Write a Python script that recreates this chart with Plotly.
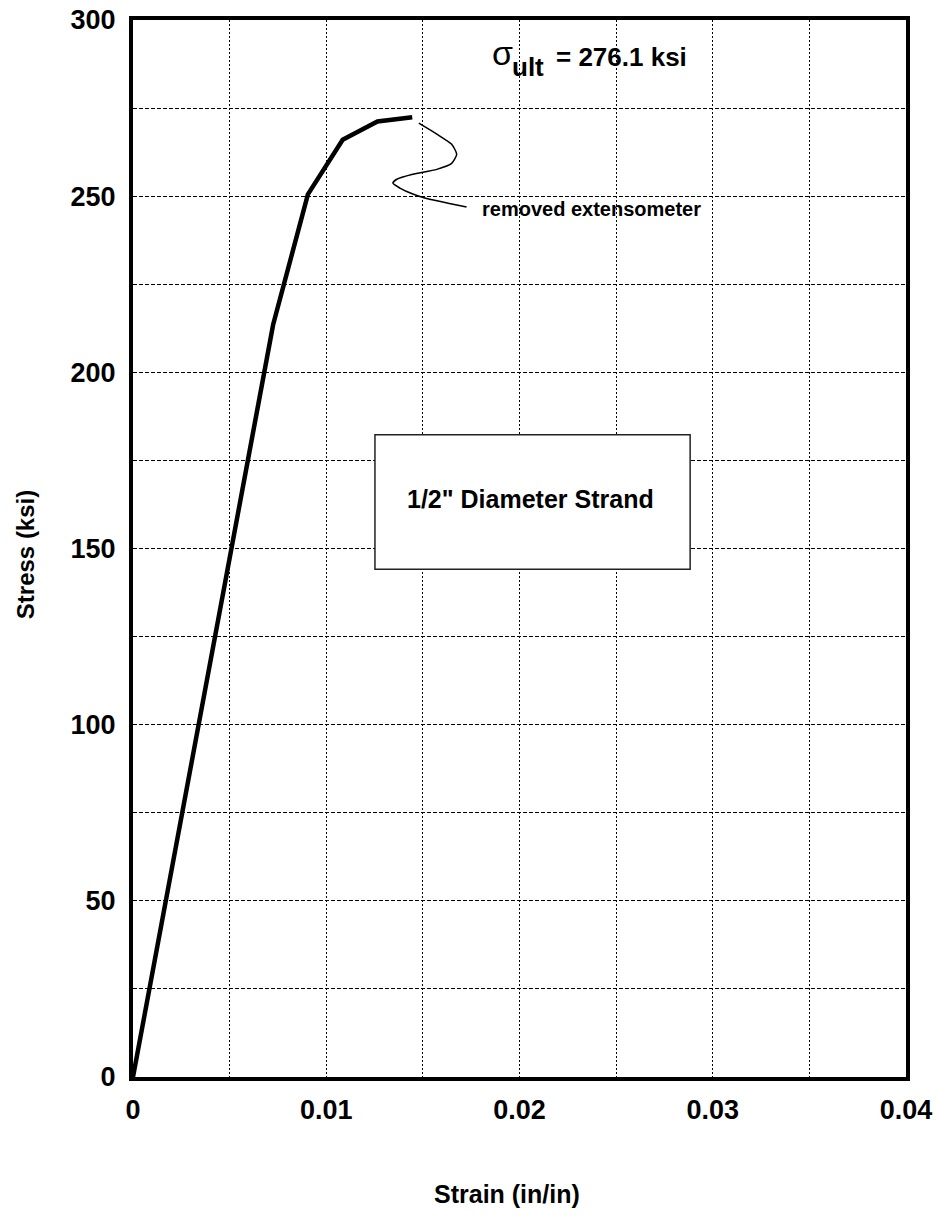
import plotly.graph_objects as go

# Stress-strain data
strain = [0.0, 0.00725, 0.00905, 0.01085, 0.01265, 0.01445]
stress = [0.0, 213.5, 250.5, 266.0, 271.2, 272.4]

# Leader squiggle for the "removed extensometer" note (data units)
leader_x = [0.01479, 0.01572, 0.01649, 0.01675, 0.01649, 0.01572, 0.01448, 0.01365,
            0.01345, 0.01381, 0.01448, 0.01510, 0.01726]
leader_y = [270.7, 267.6, 264.7, 261.9, 259.3, 257.6, 256.2, 254.8,
            253.7, 252.3, 250.6, 249.5, 246.9]

x_ticks = [0, 0.01, 0.02, 0.03, 0.04]
x_tick_labels = ["0", "0.01", "0.02", "0.03", "0.04"]
y_ticks = [0, 50, 100, 150, 200, 250, 300]
y_tick_labels = ["0", "50", "100", "150", "200", "250", "300"]

ult_label = "= 276.1 ksi"
box_label = "1/2\" Diameter Strand"
note_label = "removed extensometer"

FONT = "Liberation Sans"

fig = go.Figure()
fig.add_trace(go.Scatter(x=strain, y=stress, mode="lines",
                         line=dict(color="black", width=4.5),
                         showlegend=False, hoverinfo="skip"))
fig.add_trace(go.Scatter(x=leader_x, y=leader_y, mode="lines",
                         line=dict(color="black", width=1.5, shape="spline", smoothing=0.6),
                         showlegend=False, hoverinfo="skip"))

grid_common = dict(showgrid=True, gridcolor="black", gridwidth=1.3, automargin=False)
fig.update_xaxes(range=[0, 0.04], tickvals=x_ticks, ticktext=x_tick_labels,
                 showline=True, linecolor="black", linewidth=4, mirror=True,
                 zeroline=False, ticks="", ticklabelstandoff=6,
                 tickfont=dict(family=FONT, size=27, color="black", weight="bold"),
                 griddash="2px,2px",
                 minor=dict(dtick=0.005, tick0=0, showgrid=True, gridcolor="black",
                            gridwidth=1.3, griddash="2px,2px", ticks=""),
                 **grid_common)
fig.update_yaxes(range=[0, 300], tickvals=y_ticks, ticktext=y_tick_labels,
                 showline=True, linecolor="black", linewidth=4, mirror=True,
                 zeroline=False, ticks="", ticklabelstandoff=8,
                 tickfont=dict(family=FONT, size=27, color="black", weight="bold"),
                 griddash="4px,2px",
                 minor=dict(dtick=25, tick0=0, showgrid=True, gridcolor="black",
                            gridwidth=1.3, griddash="4px,2px", ticks=""),
                 **grid_common)

# Label box
fig.add_shape(type="rect", xref="x", yref="y", x0=0.01252, x1=0.02883, y0=144.1, y1=182.3,
              line=dict(color="#222", width=1.5), fillcolor="white", layer="above")

c = dict(xanchor="center", yanchor="middle", showarrow=False)
ann = [
    dict(text=box_label, x=0.02057, y=164.0, xref="x", yref="y",
         font=dict(family=FONT, size=25, color="black", weight="bold"), **c),
    dict(text=note_label, x=0.02372, y=246.3, xref="x", yref="y",
         font=dict(family=FONT, size=20, color="black", weight="bold"), **c),
    dict(text="σ", x=0.01912, y=290.6, xref="x", yref="y",
         font=dict(family=FONT, size=34, color="black"), **c),
    dict(text="ult", x=0.02045, y=286.8, xref="x", yref="y",
         font=dict(family=FONT, size=26, color="black", weight="bold"), **c),
    dict(text=ult_label, x=0.02530, y=289.6, xref="x", yref="y",
         font=dict(family=FONT, size=26, color="black", weight="bold"), **c),
    dict(text="Stress (ksi)", x=-0.138, y=0.494, xref="paper", yref="paper",
         textangle=-90, font=dict(family=FONT, size=24, color="black", weight="bold"), **c),
    dict(text="Strain (in/in)", x=0.484, y=-0.1105, xref="paper", yref="paper",
         font=dict(family=FONT, size=25, color="black", weight="bold"), **c),
]
fig.update_layout(width=939, height=1226, margin=dict(l=133, r=33, t=20, b=149),
                  paper_bgcolor="white", plot_bgcolor="white", annotations=ann,
                  showlegend=False)

fig.write_html("out.html")
